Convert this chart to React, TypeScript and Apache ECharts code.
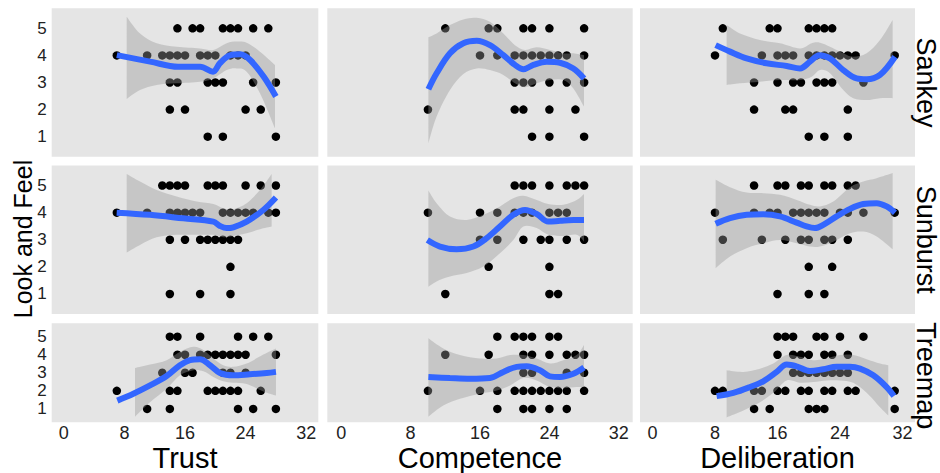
import React, { useEffect, useRef } from 'react';
import * as echarts from 'echarts';

// ---------- categories / ticks ----------
const rowNames = ['Sankey', 'Sunburst', 'Treemap'];
const colNames = ['Trust', 'Competence', 'Deliberation'];
const yTitle = 'Look and Feel';
const xTickValues = [0, 8, 16, 24, 32];
const yTickValues = [1, 2, 3, 4, 5];

// ---------- Sankey ----------
const sankeyTrustPts: [number, number[]][] = [
  [5, [15, 17, 18, 21, 22, 23, 25, 27]],
  [4, [7, 11, 13, 14, 15, 16, 18, 19, 20, 22, 23, 24]],
  [3, [14, 15, 19, 20, 21, 25, 28]],
  [2, [14, 16, 24, 26]],
  [1, [19, 21, 28]],
];
const sankeyTrustFitX = [7, 11.4, 15.1, 18, 19.7, 20.6, 22, 23.3, 24.6, 26.4, 28];
const sankeyTrustFitY = [4.01, 3.77, 3.58, 3.58, 3.4, 3.71, 4.01, 4.04, 3.83, 3.21, 2.48];
const sankeyTrustBandX = [8.3, 10.06, 12.26, 14.9, 17.98, 19.74, 21.5, 22.82, 24.14, 25.9, 27.88];
const sankeyTrustBandHi = [5.43, 4.81, 4.45, 4.32, 4.26, 4.2, 4.45, 4.51, 4.47, 4.14, 3.65];
const sankeyTrustBandLo = [2.39, 2.72, 2.91, 2.97, 3.03, 3.15, 3.46, 3.52, 3.4, 2.6, 1.31];

const sankeyCompPts: [number, number[]][] = [
  [5, [12, 17, 18, 21, 22, 24, 28]],
  [4, [16, 18, 20, 21, 22, 23, 24, 25, 26, 28]],
  [3, [20, 21, 22, 24, 26, 28]],
  [2, [10, 20, 21, 24, 27]],
  [1, [22, 24, 28]],
];
const sankeyCompFitX = [10.05, 11.0, 12.54, 14.08, 15.62, 17.15, 18.69, 20.03, 21.0, 22.15, 23.68, 25.22, 26.76, 27.99];
const sankeyCompFitY = [2.75, 3.34, 4.08, 4.45, 4.54, 4.38, 4.01, 3.65, 3.49, 3.65, 3.77, 3.73, 3.52, 3.15];
const sankeyCompBandX = [10.05, 11.0, 12.54, 14.08, 15.62, 17.15, 18.69, 20.03, 21.18, 22.53, 24.07, 25.6, 26.76, 27.99];
const sankeyCompBandHi = [4.67, 4.81, 5.12, 5.33, 5.39, 5.24, 4.81, 4.38, 4.2, 4.3, 4.2, 4.08, 4.08, 4.01];
const sankeyCompBandLo = [0.75, 1.74, 2.72, 3.31, 3.52, 3.46, 3.28, 2.97, 2.82, 2.97, 3.09, 3.09, 2.78, 2.11];

const sankeyDelibPts: [number, number[]][] = [
  [5, [9, 15, 16, 20, 21, 22, 23]],
  [4, [8, 14, 16, 17, 18, 20, 21, 22, 23, 24, 25, 26, 31]],
  [3, [13, 16, 18, 19, 21, 22, 23, 27]],
  [2, [13, 17, 18, 25]],
  [1, [20, 22, 25]],
];
const sankeyDelibFitX = [8.08, 9.92, 12.05, 14.61, 17.17, 18.88, 20.16, 21.35, 22.72, 24.42, 26.13, 27.41, 29.12, 31.04];
const sankeyDelibFitY = [4.38, 4.14, 3.89, 3.71, 3.61, 3.52, 3.77, 4.01, 3.89, 3.46, 3.15, 3.12, 3.28, 3.95];
const sankeyDelibBandX = [9.49, 11.2, 13.76, 16.32, 18.88, 20.37, 21.44, 22.72, 24.42, 25.7, 27.41, 29.12, 30.74];
const sankeyDelibBandHi = [5.12, 4.81, 4.57, 4.45, 4.26, 4.45, 4.47, 4.32, 4.08, 3.95, 4.08, 4.57, 5.31];
const sankeyDelibBandLo = [2.91, 2.97, 3.03, 3.09, 3.09, 3.21, 3.46, 3.34, 2.72, 2.42, 2.35, 2.42, 2.42];

// ---------- Sunburst ----------
const sunTrustPts: [number, number[]][] = [
  [5, [13, 14, 15, 16, 19, 20, 21, 24, 26, 28]],
  [4, [7, 11, 14, 15, 16, 17, 18, 21, 22, 23, 24, 25, 27, 28]],
  [3, [14, 16, 18, 19, 20, 21, 22, 23]],
  [2, [22]],
  [1, [14, 18, 22]],
];
const sunTrustFitX = [6.98, 11.38, 15.78, 19.74, 20.62, 21.5, 22.38, 24.14, 26.34, 28.01];
const sunTrustFitY = [4.0, 3.92, 3.79, 3.67, 3.51, 3.43, 3.46, 3.67, 4.1, 4.56];
const sunTrustBandX = [8.3, 10.06, 12.26, 14.9, 17.54, 19.74, 21.06, 22.38, 24.14, 25.9, 27.44];
const sunTrustBandHi = [5.43, 5.15, 4.84, 4.6, 4.41, 4.32, 4.16, 4.13, 4.35, 4.84, 5.43];
const sunTrustBandLo = [2.53, 2.81, 3.09, 3.18, 3.18, 3.18, 3.09, 3.14, 3.24, 3.39, 3.49];

const sunCompPts: [number, number[]][] = [
  [5, [20, 21, 22, 24, 26, 27, 28]],
  [4, [10, 16, 18, 20, 21, 22, 24, 25, 26]],
  [3, [16, 18, 21, 23, 24, 26, 28]],
  [2, [17, 24]],
  [1, [12, 24, 25]],
];
const sunCompFitX = [9.93, 11.39, 13.31, 15.23, 16.77, 18.3, 19.84, 21.19, 22.53, 23.87, 25.22, 26.76, 27.99];
const sunCompFitY = [2.99, 2.75, 2.65, 2.75, 3.06, 3.49, 3.92, 4.1, 3.95, 3.67, 3.7, 3.73, 3.73];
const sunCompBandX = [10.05, 11.0, 12.54, 14.46, 16.38, 18.3, 19.84, 20.99, 22.53, 23.87, 25.6, 27.14, 27.99];
const sunCompBandHi = [4.82, 4.35, 3.86, 3.73, 3.92, 4.23, 4.53, 4.62, 4.47, 4.32, 4.29, 4.47, 4.69];
const sunCompBandLo = [1.27, 1.46, 1.64, 1.77, 2.01, 2.5, 2.99, 3.49, 3.43, 3.18, 3.14, 3.18, 2.93];

const sunDelibPts: [number, number[]][] = [
  [5, [13, 16, 17, 19, 20, 22, 23, 25, 26]],
  [4, [8, 13, 15, 16, 18, 19, 20, 21, 22, 24, 25, 27, 31]],
  [3, [9, 14, 17, 19, 20, 22, 23, 25]],
  [2, [20, 23]],
  [1, [16, 20, 22]],
];
const sunDelibFitX = [8.08, 9.92, 12.05, 14.19, 16.32, 18.45, 19.73, 20.8, 21.86, 23.57, 25.28, 26.98, 28.69, 29.97, 31.04];
const sunDelibFitY = [3.59, 3.8, 3.92, 3.94, 3.86, 3.63, 3.49, 3.43, 3.55, 3.86, 4.14, 4.32, 4.35, 4.23, 4.0];
const sunDelibBandX = [8.08, 9.92, 12.05, 14.19, 16.32, 18.45, 20.16, 21.44, 23.14, 25.28, 26.98, 28.69, 30.74];
const sunDelibBandHi = [5.21, 4.94, 4.74, 4.72, 4.66, 4.47, 4.29, 4.23, 4.41, 4.94, 5.15, 5.27, 5.46];
const sunDelibBandLo = [1.95, 2.38, 2.69, 2.87, 2.99, 2.87, 2.75, 2.75, 2.93, 3.24, 3.3, 3.12, 2.65];

// ---------- Treemap ----------
const treeTrustPts: [number, number[]][] = [
  [5, [14, 15, 18, 23, 25, 27]],
  [4, [15, 16, 18, 19, 20, 21, 22, 23, 24, 28]],
  [3, [13, 16, 17, 21, 22, 24]],
  [2, [7, 14, 15, 19, 20, 21, 22, 23, 26]],
  [1, [11, 14, 23, 25, 28]],
];
const treeTrustFitX = [7.06, 9.18, 11.38, 13.58, 15.34, 16.66, 17.98, 19.3, 20.62, 22.38, 24.58, 26.78, 28.01];
const treeTrustFitY = [1.46, 1.84, 2.3, 2.82, 3.42, 3.7, 3.75, 3.42, 2.99, 2.86, 2.92, 2.99, 3.05];
const treeTrustBandX = [9.4, 11.38, 13.58, 15.34, 17.1, 18.42, 19.74, 21.06, 22.38, 24.14, 26.34, 28.01];
const treeTrustBandHi = [3.27, 3.46, 3.7, 4.16, 4.44, 4.26, 3.79, 3.42, 3.33, 3.51, 4.01, 4.35];
const treeTrustBandLo = [0.57, 1.37, 2.12, 2.86, 3.14, 3.08, 2.77, 2.53, 2.45, 2.38, 1.97, 1.74];

const treeCompPts: [number, number[]][] = [
  [5, [18, 20, 21, 22, 24, 25]],
  [4, [12, 17, 21, 22, 24, 26, 27, 28]],
  [3, [21, 22, 26, 28]],
  [2, [10, 16, 18, 20, 21, 22, 23, 24, 25, 26, 28]],
  [1, [18, 21, 22, 24, 26]],
];
const treeCompFitX = [10.05, 12.54, 14.85, 17.15, 18.69, 20.22, 21.38, 22.91, 24.07, 25.22, 26.76, 27.99];
const treeCompFitY = [2.77, 2.71, 2.67, 2.71, 3.05, 3.33, 3.36, 3.14, 2.8, 2.77, 2.95, 3.29];
const treeCompBandX = [10.05, 11.77, 13.69, 16.0, 17.92, 19.46, 21.0, 22.53, 24.07, 25.6, 27.14, 27.99];
const treeCompBandHi = [4.91, 4.35, 3.98, 3.79, 3.79, 3.98, 3.98, 3.79, 3.51, 3.7, 3.98, 4.54];
const treeCompBandLo = [0.57, 1.19, 1.56, 1.84, 2.02, 2.3, 2.71, 2.58, 2.21, 2.15, 2.21, 2.21];

const treeDelibPts: [number, number[]][] = [
  [5, [16, 17, 18, 21, 22, 24, 27]],
  [4, [16, 18, 19, 20, 22, 23, 25]],
  [3, [18, 19, 20, 21, 22, 23, 24, 25]],
  [2, [8, 9, 13, 14, 16, 17, 19, 20, 22, 23, 25, 26, 31]],
  [1, [13, 15, 20, 21, 22, 31]],
];
const treeDelibFitX = [8.21, 10.35, 12.48, 14.18, 15.89, 17.17, 18.45, 20.16, 21.86, 23.57, 25.28, 26.56, 28.26, 29.97, 30.91];
const treeDelibFitY = [1.71, 1.89, 2.21, 2.53, 3.05, 3.46, 3.36, 3.1, 3.2, 3.33, 3.33, 3.23, 2.86, 2.21, 1.71];
const treeDelibBandX = [9.49, 11.63, 13.76, 15.46, 17.17, 18.88, 20.58, 22.29, 23.99, 25.7, 27.41, 29.12, 30.18];
const treeDelibBandHi = [3.14, 3.05, 3.23, 3.51, 3.98, 3.89, 3.7, 3.79, 3.98, 3.98, 3.75, 3.51, 3.42];
const treeDelibBandLo = [0.53, 0.91, 1.37, 1.89, 2.58, 2.45, 2.49, 2.58, 2.58, 2.45, 1.89, 1.09, 0.63];

// ---------- panel assembly ----------
type Panel = {
  pts: [number, number[]][];
  fitX: number[]; fitY: number[];
  bandX: number[]; bandHi: number[]; bandLo: number[];
};
const mk = (pts: [number, number[]][], fitX: number[], fitY: number[], bandX: number[], bandHi: number[], bandLo: number[]): Panel =>
  ({ pts, fitX, fitY, bandX, bandHi, bandLo });

const panels: Panel[][] = [
  [
    mk(sankeyTrustPts, sankeyTrustFitX, sankeyTrustFitY, sankeyTrustBandX, sankeyTrustBandHi, sankeyTrustBandLo),
    mk(sankeyCompPts, sankeyCompFitX, sankeyCompFitY, sankeyCompBandX, sankeyCompBandHi, sankeyCompBandLo),
    mk(sankeyDelibPts, sankeyDelibFitX, sankeyDelibFitY, sankeyDelibBandX, sankeyDelibBandHi, sankeyDelibBandLo),
  ],
  [
    mk(sunTrustPts, sunTrustFitX, sunTrustFitY, sunTrustBandX, sunTrustBandHi, sunTrustBandLo),
    mk(sunCompPts, sunCompFitX, sunCompFitY, sunCompBandX, sunCompBandHi, sunCompBandLo),
    mk(sunDelibPts, sunDelibFitX, sunDelibFitY, sunDelibBandX, sunDelibBandHi, sunDelibBandLo),
  ],
  [
    mk(treeTrustPts, treeTrustFitX, treeTrustFitY, treeTrustBandX, treeTrustBandHi, treeTrustBandLo),
    mk(treeCompPts, treeCompFitX, treeCompFitY, treeCompBandX, treeCompBandHi, treeCompBandLo),
    mk(treeDelibPts, treeDelibFitX, treeDelibFitY, treeDelibBandX, treeDelibBandHi, treeDelibBandLo),
  ],
];

// ---------- layout / style ----------
const FONT = '"Liberation Sans", Arial, Helvetica, sans-serif';
const COL_LEFT = [51.7, 327.3, 640];
const COL_W = [266.6, 305.4, 275];
const ROW_TOP = [8.3, 165.5, 323.3];
const ROW_H = [148.4, 148.5, 99];
const X_MIN = -1.6, X_MAX = 33.6;
const Y_MIN = 0.26, Y_MAX = 5.74;
const PANEL_BG = '#E5E5E5';
const BAND_FILL = 'rgba(153,153,153,0.4)';
const LINE_COLOR = '#3366FF';

function curveSegs(p: number[][]): string {
  let s = '';
  for (let i = 0; i < p.length - 1; i++) {
    const p0 = p[i - 1] || p[i];
    const p1 = p[i];
    const p2 = p[i + 1];
    const p3 = p[i + 2] || p2;
    const c1x = p1[0] + (p2[0] - p0[0]) / 6;
    const c1y = p1[1] + (p2[1] - p0[1]) / 6;
    const c2x = p2[0] - (p3[0] - p1[0]) / 6;
    const c2y = p2[1] - (p3[1] - p1[1]) / 6;
    s += `C${c1x},${c1y} ${c2x},${c2y} ${p2[0]},${p2[1]}`;
  }
  return s;
}

function buildOption() {
  const grid: any[] = [];
  const xAxis: any[] = [];
  const yAxis: any[] = [];
  const series: any[] = [];

  for (let r = 0; r < 3; r++) {
    for (let c = 0; c < 3; c++) {
      const g = r * 3 + c;
      const p = panels[r][c];
      grid.push({
        left: COL_LEFT[c], top: ROW_TOP[r], width: COL_W[c], height: ROW_H[r],
        show: true, backgroundColor: PANEL_BG, borderWidth: 0,
        containLabel: false, outerBoundsMode: 'none',
      });
      xAxis.push({
        gridIndex: g, type: 'value', min: X_MIN, max: X_MAX,
        axisLine: { show: false }, axisTick: { show: false }, splitLine: { show: false },
        axisLabel: {
          show: r === 2, customValues: xTickValues, fontSize: 18, fontFamily: FONT,
          color: '#222', margin: 2,
        },
      });
      yAxis.push({
        gridIndex: g, type: 'value', min: Y_MIN, max: Y_MAX,
        axisLine: { show: false }, axisTick: { show: false }, splitLine: { show: false },
        axisLabel: {
          show: c === 0, customValues: yTickValues, fontSize: 17, fontFamily: FONT,
          color: '#222', margin: 5,
        },
      });
      const scatterData: number[][] = [];
      p.pts.forEach(([lvl, xs]) => xs.forEach((x) => scatterData.push([x, lvl])));
      series.push({
        type: 'scatter', xAxisIndex: g, yAxisIndex: g, data: scatterData,
        symbol: 'circle', symbolSize: 8.5, itemStyle: { color: '#000', opacity: 1 },
        z: 2, silent: true,
      });
      series.push({
        type: 'custom', xAxisIndex: g, yAxisIndex: g, clip: true, z: 3, silent: true,
        data: [[p.bandX[0], p.bandLo[0]]],
        encode: { x: 0, y: 1 },
        renderItem: (_params: any, api: any) => {
          const hi = p.bandX.map((x, i) => api.coord([x, p.bandHi[i]]));
          const lo = p.bandX.map((x, i) => api.coord([x, p.bandLo[i]])).reverse();
          const d = `M${hi[0][0]},${hi[0][1]}` + curveSegs(hi) + `L${lo[0][0]},${lo[0][1]}` + curveSegs(lo) + 'Z';
          return { type: 'path', shape: { pathData: d }, style: { fill: BAND_FILL } };
        },
      });
      series.push({
        type: 'line', xAxisIndex: g, yAxisIndex: g,
        data: p.fitX.map((x, i) => [x, p.fitY[i]]),
        smooth: 0.35, showSymbol: false, symbol: 'none',
        lineStyle: { color: LINE_COLOR, width: 6, cap: 'butt' },
        z: 4, silent: true, clip: true,
      });
    }
  }

  const graphic: any[] = [];
  graphic.push({
    type: 'text', x: 23, y: 239, rotation: Math.PI / 2,
    style: { text: yTitle, fontSize: 25, fontFamily: FONT, fill: '#000', align: 'center', verticalAlign: 'middle' },
  });
  colNames.forEach((name, c) => {
    graphic.push({
      type: 'text', x: COL_LEFT[c] + COL_W[c] / 2, y: 458,
      style: { text: name, fontSize: 29, fontFamily: FONT, fill: '#000', align: 'center', verticalAlign: 'middle' },
    });
  });
  rowNames.forEach((name, r) => {
    graphic.push({
      type: 'text', x: 926, y: ROW_TOP[r] + ROW_H[r] / 2 + (r === 2 ? 3 : 0), rotation: -Math.PI / 2,
      style: { text: name, fontSize: 27, fontFamily: FONT, fill: '#000', align: 'center', verticalAlign: 'middle' },
    });
  });

  return {
    animation: false,
    backgroundColor: '#FFFFFF',
    grid, xAxis, yAxis, series, graphic,
  };
}

export default function App() {
  const ref = useRef<HTMLDivElement>(null);
  useEffect(() => {
    if (!ref.current) return;
    const chart = echarts.init(ref.current, null, { renderer: 'svg' });
    chart.setOption(buildOption() as any);
    return () => chart.dispose();
  }, []);
  return (
    <div
      ref={ref}
      style={{ position: 'absolute', left: 0, top: 0, width: 940, height: 473 }}
    />
  );
}
